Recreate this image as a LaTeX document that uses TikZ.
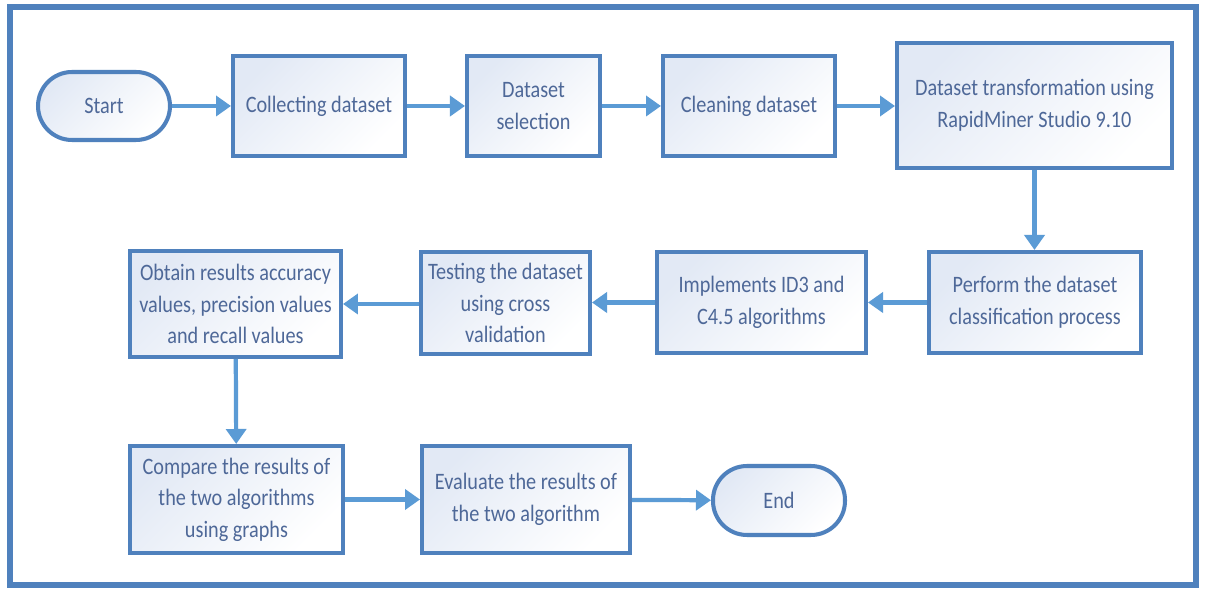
\documentclass[tikz,border=0pt]{standalone}
\usepackage{fontspec}
\setmainfont[FakeStretch=0.86]{Carlito}
\usetikzlibrary{arrows.meta}
\definecolor{edgeblue}{RGB}{79,129,189}
\definecolor{arrowblue}{RGB}{91,155,213}
\definecolor{boxtint}{RGB}{226,233,245}
\definecolor{textblue}{RGB}{78,104,152}
\tikzset{
  every node/.style={font=\fontsize{13.4}{18}\selectfont, text=textblue, align=center},
  stepbox/.style={draw=edgeblue, line width=2.3pt, shade, top color=boxtint, bottom color=white, shading angle=45, inner sep=2pt},
  terminal/.style={stepbox, rounded corners=0.68cm},
  flow/.style={draw=arrowblue, line width=2.4pt, -{Triangle[length=0.3cm,width=0.4cm]}}
}
\begin{document}
\begin{tikzpicture}[x=0.02cm, y=-0.02cm]
  \useasboundingbox[fill=white] (0,0) rectangle (1205,590);
  % outer frame
  \draw[edgeblue, line width=2.9pt] (10,7) rectangle (1196,585);

  % first row
  \node[terminal, minimum width=2.64cm, minimum height=1.36cm] (start) at (104,106) {Start};
  \node[stepbox, minimum width=3.44cm, minimum height=2.0cm] (collect) at (319,106) {Collecting dataset};
  \node[stepbox, minimum width=2.66cm, minimum height=2.0cm] (select) at (533.5,106) {Dataset\\selection};
  \node[stepbox, minimum width=3.44cm, minimum height=2.0cm] (clean) at (749,106) {Cleaning dataset};
  \node[stepbox, minimum width=5.5cm, minimum height=2.5cm] (transf) at (1034.5,105.5) {Dataset transformation using\\RapidMiner Studio 9.10};

  % second row
  \node[stepbox, minimum width=4.24cm, minimum height=2.02cm] (perform) at (1035,302.5) {Perform the dataset\\classification process};
  \node[stepbox, minimum width=4.18cm, minimum height=2.02cm] (impl) at (761.5,302.5) {Implements ID3 and\\C4.5 algorithms};
  \node[stepbox, minimum width=3.38cm, minimum height=2.04cm] (test) at (505.5,303) {Testing the dataset\\using cross\\validation};
  \node[stepbox, minimum width=4.22cm, minimum height=2.12cm] (obtain) at (235.5,304) {Obtain results accuracy\\values, precision values\\and recall values};

  % third row
  \node[stepbox, minimum width=4.26cm, minimum height=2.14cm] (compare) at (236.5,499.5) {Compare the results of\\the two algorithms\\using graphs};
  \node[stepbox, minimum width=4.16cm, minimum height=2.14cm] (eval) at (526,499.5) {Evaluate the results of\\the two algorithm};
  \node[terminal, minimum width=2.64cm, minimum height=1.38cm] (end) at (779,500.5) {End};

  % connectors
  \draw[flow] (start) -- (collect);
  \draw[flow] (collect) -- (select);
  \draw[flow] (select) -- (clean);
  \draw[flow] (clean) -- (transf.west |- clean);
  \draw[flow] (transf.south) -- (transf.south |- perform.north);
  \draw[flow] (perform) -- (impl);
  \draw[flow] (impl) -- (impl -| test.east);
  \draw[flow] (test.west |- obtain) -- (obtain);
  \draw[flow] (obtain) -- (compare);
  \draw[flow] (compare) -- (eval);
  \draw[flow] (eval) -- (end);
\end{tikzpicture}
\end{document}
